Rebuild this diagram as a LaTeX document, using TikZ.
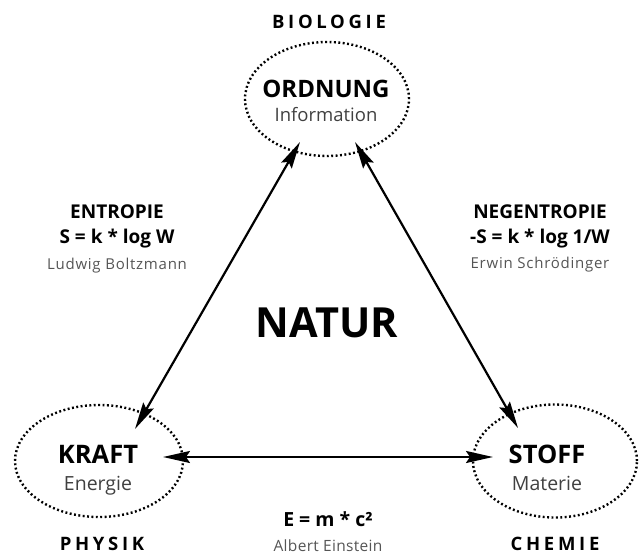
\documentclass[tikz,border=0pt]{standalone}
\usepackage{fontspec}
\setmainfont{Open Sans}
\usetikzlibrary{shapes.geometric,arrows.meta}
\definecolor{subgray}{HTML}{404040}
\definecolor{namegray}{HTML}{555555}
\tikzset{
  ell/.style={ellipse, draw, line width=2.4pt, dash pattern=on 1.9pt off 2.5pt, inner sep=0pt},
  arr/.style={line width=2.2pt, {Stealth[length=27pt,width=12pt,inset=4pt]}-{Stealth[length=27pt,width=12pt,inset=4pt]}},
  txtbase/.style={anchor=base, inner sep=0pt},
  fieldlbl/.style={txtbase, font=\fontsize{18.5}{20}\bfseries\addfontfeature{LetterSpace=20}},
  headlbl/.style={txtbase, font=\fontsize{19}{22}\bfseries},
  personlbl/.style={txtbase, text=namegray, font=\fontsize{15}{18}\selectfont\addfontfeature{LetterSpace=5}},
}
\begin{document}
\begin{tikzpicture}[x=1pt,y=-1pt]
\useasboundingbox (0,0) rectangle (643,554);
% ellipses
\node[ell, minimum width=164pt, minimum height=114pt] (ord) at (327,99) {};
\node[ell, minimum width=168pt, minimum height=112pt] (kraft) at (99,461) {};
\node[ell, minimum width=164pt, minimum height=113pt] (stoff) at (555,461) {};
% texts inside ellipses
\node[txtbase, font=\fontsize{24}{26}\bfseries] (ordT) at (326,97) {ORDNUNG};
\node[txtbase, text=subgray, font=\fontsize{18.5}{22}\selectfont] (ordS) at (326,121) {Information};
\node[txtbase, font=\fontsize{25.5}{28}\bfseries] (kraftT) at (98,463) {KRAFT};
\node[txtbase, text=subgray, font=\fontsize{19.5}{22}\selectfont] (kraftS) at (98,490) {Energie};
\node[txtbase, font=\fontsize{25.5}{28}\bfseries] (stoffT) at (547,463) {STOFF};
\node[txtbase, text=subgray, font=\fontsize{19.5}{22}\selectfont] (stoffS) at (547,490) {Materie};
% field labels
\node[fieldlbl] (bio) at (329,28) {BIOLOGIE};
\node[fieldlbl] (phy) at (102,550) {PHYSIK};
\node[fieldlbl] (che) at (555,550) {CHEMIE};
% centre
\node[txtbase, font=\fontsize{41.5}{46}\bfseries] (natur) at (327,337) {NATUR};
% left side
\node[headlbl] (entT) at (117,218) {ENTROPIE};
\node[headlbl] (entF) at (117,243) {S = k * log W};
\node[personlbl] (entN) at (117,269) {Ludwig Boltzmann};
% right side
\node[headlbl] (negT) at (540,218) {NEGENTROPIE};
\node[headlbl] (negF) at (540,243) {-S = k * log 1/W};
\node[personlbl] (negN) at (540,268) {Erwin Schrödinger};
% bottom
\node[txtbase, font=\fontsize{19.5}{22}\bfseries] (einF) at (328,526) {E = m * c²};
\node[personlbl, font=\fontsize{15.5}{18}\selectfont\addfontfeature{LetterSpace=2}] (einN) at (328,551) {Albert Einstein};
% arrow end points
\coordinate (oL) at ([shift={(-27,43)}]ord.center);
\coordinate (oR) at ([shift={(28,43)}]ord.center);
\coordinate (kU) at ([shift={(36,-32)}]kraft.center);
\coordinate (kR) at ([shift={(64,-4)}]kraft.center);
\coordinate (sU) at ([shift={(-37,-33)}]stoff.center);
\coordinate (sL) at ([shift={(-62,-4)}]stoff.center);
% connectors
\draw[arr] (oL) -- (kU);
\draw[arr] (oR) -- (sU);
\draw[arr] (kR) -- (sL);
\end{tikzpicture}
\end{document}
